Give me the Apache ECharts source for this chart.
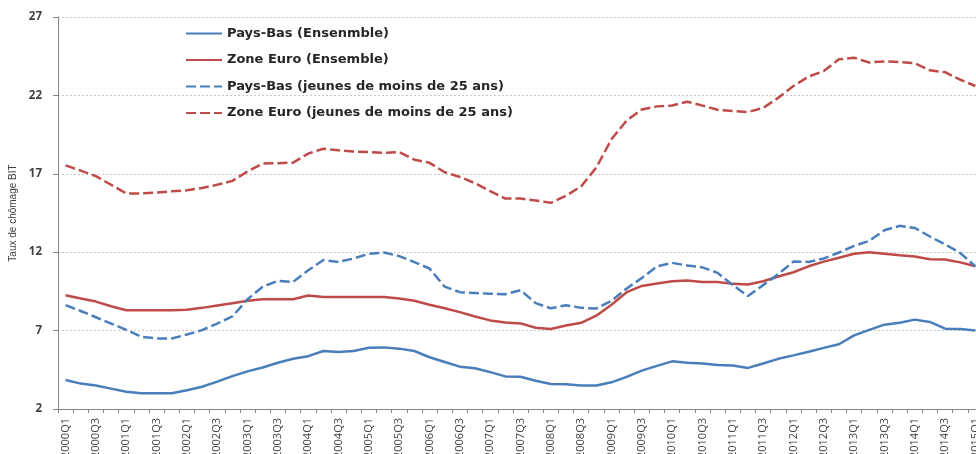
<!DOCTYPE html>
<html>
<head>
<meta charset="utf-8">
<script src="https://cdn.jsdelivr.net/npm/echarts@6/dist/echarts.min.js"></script>
<style>html,body{margin:0;padding:0;background:#fff;}#c{width:976px;height:454px;}</style>
</head>
<body>
<div id="c"></div>
<script>
const categories = [
'2000Q1','2000Q2','2000Q3','2000Q4','2001Q1','2001Q2','2001Q3','2001Q4',
'2002Q1','2002Q2','2002Q3','2002Q4','2003Q1','2003Q2','2003Q3','2003Q4',
'2004Q1','2004Q2','2004Q3','2004Q4','2005Q1','2005Q2','2005Q3','2005Q4',
'2006Q1','2006Q2','2006Q3','2006Q4','2007Q1','2007Q2','2007Q3','2007Q4',
'2008Q1','2008Q2','2008Q3','2008Q4','2009Q1','2009Q2','2009Q3','2009Q4',
'2010Q1','2010Q2','2010Q3','2010Q4','2011Q1','2011Q2','2011Q3','2011Q4',
'2012Q1','2012Q2','2012Q3','2012Q4','2013Q1','2013Q2','2013Q3','2013Q4',
'2014Q1','2014Q2','2014Q3','2014Q4','2015Q1'];

const seriesNames = [
'Pays-Bas (Ensenmble)',
'Zone Euro (Ensemble)',
'Pays-Bas (jeunes de moins de 25 ans)',
'Zone Euro (jeunes de moins de 25 ans)'];

const pbEnsemble = [3.85,3.62,3.5,3.3,3.1,3.0,3.0,3.0,3.2,3.42,3.75,4.1,4.4,4.65,4.95,5.2,5.37,5.7,5.63,5.7,5.9,5.93,
5.85,5.7,5.3,5.0,4.7,4.6,4.35,4.08,4.06,3.8,3.6,3.58,3.5,3.5,3.7,4.05,4.45,4.75,5.04,4.95,
4.9,4.8,4.78,4.62,4.9,5.2,5.42,5.65,5.9,6.13,6.7,7.05,7.38,7.5,7.7,7.55,7.12,7.1,7.0];

const zeEnsemble = [9.26,9.05,8.85,8.55,8.3,8.3,8.3,8.3,8.33,8.45,8.6,8.75,8.9,9.0,9.0,9.0,9.24,9.15,9.15,9.15,9.15,9.15,
9.05,8.9,8.65,8.42,8.18,7.9,7.65,7.52,7.46,7.18,7.1,7.33,7.5,7.95,8.65,9.45,9.85,10.0,10.15,10.2,
10.1,10.1,9.98,9.94,10.15,10.45,10.72,11.1,11.4,11.65,11.9,12.0,11.9,11.8,11.72,11.55,11.54,11.35,11.1];

const pbJeunes = [8.62,8.25,7.85,7.45,7.05,6.6,6.5,6.5,6.75,7.03,7.45,7.9,9.0,9.8,10.17,10.1,10.85,11.5,11.38,11.6,11.9,11.98,
11.75,11.37,10.96,9.8,9.45,9.4,9.35,9.32,9.58,8.75,8.42,8.62,8.45,8.41,8.9,9.69,10.35,11.1,11.32,11.15,
11.03,10.68,9.9,9.2,9.9,10.6,11.4,11.38,11.6,11.98,12.4,12.72,13.4,13.68,13.55,13.0,12.5,11.95,11.1];

const zeJeunes = [17.54,17.2,16.85,16.3,15.75,15.75,15.8,15.88,15.95,16.1,16.3,16.55,17.15,17.65,17.68,17.71,18.29,18.6,18.5,18.42,18.39,18.33,
18.39,17.9,17.7,17.1,16.8,16.4,15.9,15.42,15.42,15.3,15.15,15.6,16.2,17.4,19.2,20.4,21.1,21.3,21.36,21.6,
21.35,21.08,21.0,20.94,21.2,21.85,22.6,23.2,23.55,24.3,24.4,24.1,24.17,24.12,24.06,23.6,23.48,23.0,22.6];

const yTicks = {min: 2, max: 27, interval: 5};

const BLUE = '#4A7EBB';
const RED = '#BE4B48';
const FONT = 'Open Sans';

function mk(name, data, color, dashed) {
  return {
    name: name,
    type: 'line',
    data: data,
    symbol: 'none',
    smooth: false,
    color: color,
    lineStyle: {color: color, width: 2.5, type: dashed ? [10, 4] : 'solid'},
    emphasis: {disabled: true}
  };
}

const chart = echarts.init(document.getElementById('c'), null, {renderer: 'canvas'});
chart.setOption({
  animation: false,
  backgroundColor: '#ffffff',
  textStyle: {fontFamily: FONT},
  grid: {left: 58, top: 17, bottom: 45, right: -7, containLabel: false, outerBoundsMode: 'none'},
  legend: {
    orient: 'vertical',
    left: 185,
    top: 27,
    padding: 0,
    itemWidth: 36,
    itemHeight: 14,
    itemGap: 13.5,
    itemStyle: {opacity: 0},
    data: seriesNames,
    textStyle: {fontFamily: 'DejaVu Sans', fontSize: 13, fontWeight: 'bold', color: '#262626'}
  },
  xAxis: {
    type: 'category',
    data: categories,
    boundaryGap: true,
    axisLine: {lineStyle: {color: '#868686', width: 1}},
    axisTick: {show: true, interval: 0, length: 4, lineStyle: {color: '#868686'}},
    axisLabel: {interval: 1, rotate: 90, fontSize: 11, color: '#404040', margin: 9, fontFamily: FONT},
    splitLine: {show: false}
  },
  yAxis: {
    type: 'value',
    min: yTicks.min,
    max: yTicks.max,
    interval: yTicks.interval,
    name: 'Taux de chômage BIT',
    nameLocation: 'middle',
    nameGap: 39,
    nameTextStyle: {fontSize: 10, color: '#404040', fontFamily: 'Liberation Sans'},
    axisLine: {show: true, lineStyle: {color: '#868686', width: 1}},
    axisTick: {show: true, length: 5, lineStyle: {color: '#868686'}},
    axisLabel: {fontSize: 11.5, fontWeight: 'bold', color: '#404040', margin: 16, fontFamily: FONT},
    splitLine: {show: true, lineStyle: {color: '#c8c8c8', type: [2, 2], width: 1}}
  },
  series: [
    mk(seriesNames[0], pbEnsemble, BLUE, false),
    mk(seriesNames[1], zeEnsemble, RED, false),
    mk(seriesNames[2], pbJeunes, BLUE, true),
    mk(seriesNames[3], zeJeunes, RED, true)
  ]
});
</script>
</body>
</html>
